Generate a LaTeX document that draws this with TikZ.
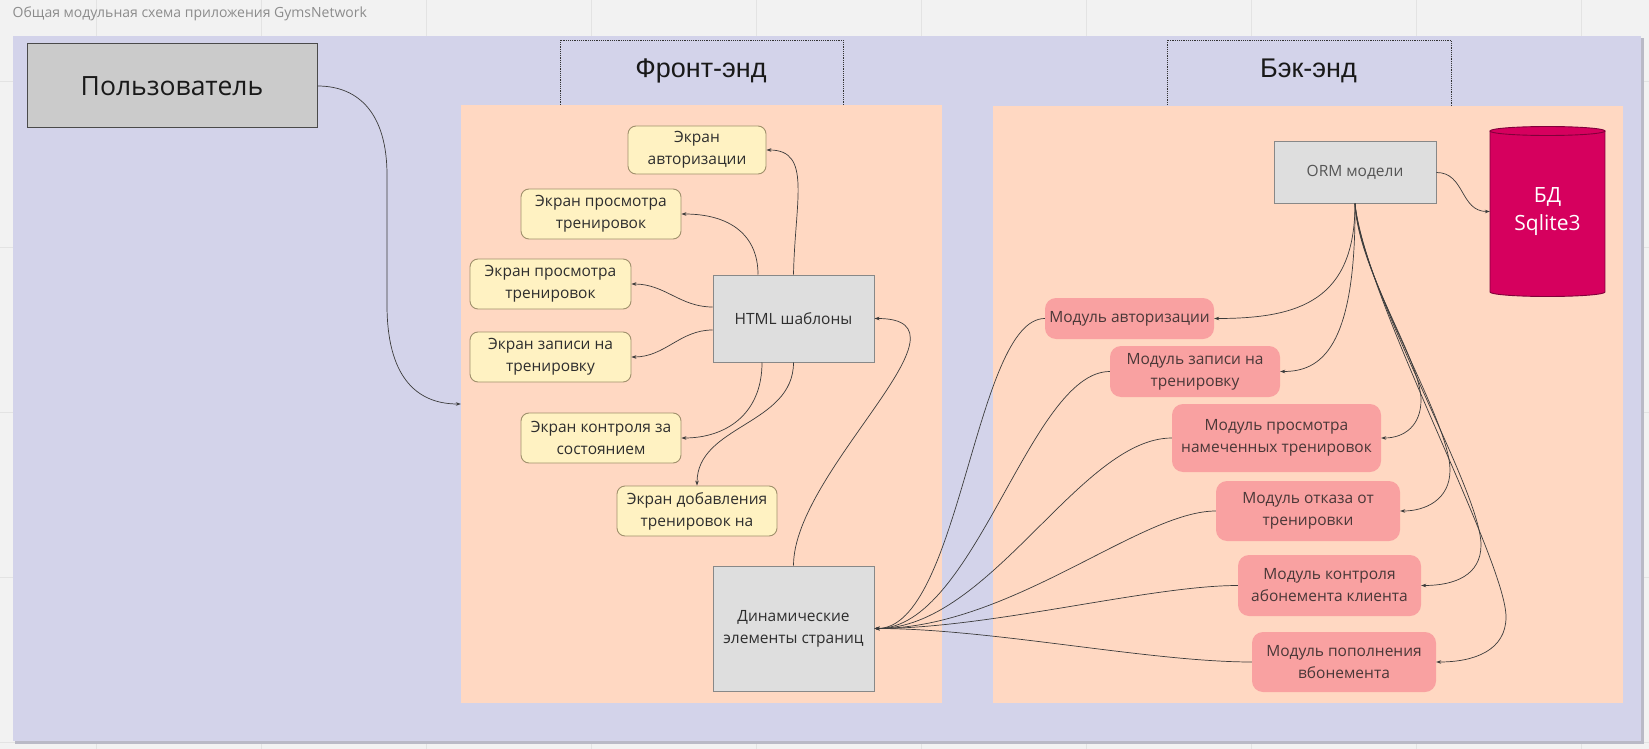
\documentclass[tikz,border=0pt]{standalone}
\usepackage{fontspec}
\setmainfont{Open Sans}
\newfontfamily\labfont{Liberation Sans}
\usetikzlibrary{arrows.meta}
\definecolor{bgc}{HTML}{F2F2F2}
\definecolor{gridc}{HTML}{E3E3E3}
\definecolor{purp}{HTML}{D3D3EA}
\definecolor{purpshadow}{HTML}{B9B9C6}
\definecolor{peach}{HTML}{FFD8C2}
\definecolor{scrfill}{HTML}{FFF2C2}
\definecolor{scrdraw}{HTML}{A0906C}
\definecolor{boxfill}{HTML}{DEDEDE}
\definecolor{boxdraw}{HTML}{888888}
\definecolor{userfill}{HTML}{CBCBCB}
\definecolor{userdraw}{HTML}{4A4A4A}
\definecolor{modfill}{HTML}{F9A1A1}
\definecolor{modtxt}{HTML}{4A3838}
\definecolor{dbfill}{HTML}{D6005E}
\definecolor{dbdraw}{HTML}{80003A}
\definecolor{linec}{HTML}{3C3C3C}
\definecolor{txtc}{HTML}{2E2E2E}
\definecolor{ormtxt}{HTML}{555555}
\definecolor{titlec}{HTML}{8C8C8C}
\begin{document}
\begin{tikzpicture}[x=1pt,y=-1pt,
  scr/.style={rectangle, rounded corners=8pt, draw=scrdraw, line width=0.9pt, fill=scrfill, text=txtc, align=center, inner sep=0pt, font=\fontsize{15.5}{22}\selectfont},
  gbox/.style={rectangle, draw=boxdraw, line width=1pt, fill=boxfill, text=txtc, align=center, inner sep=0pt, font=\fontsize{15.5}{22}\selectfont},
  modbox/.style={rectangle, rounded corners=11pt, fill=modfill, text=modtxt, align=center, inner sep=0pt, font=\fontsize{15.5}{22}\selectfont},
  panel/.style={rectangle, fill=peach, inner sep=0pt},
  labbox/.style={rectangle, draw=black!80, line width=0.8pt, dash pattern=on 1.2pt off 1pt, inner sep=0pt},
  labtext/.style={font=\labfont\fontsize{27}{32}\selectfont, text=black!90, inner sep=0pt, anchor=base},
  conn/.style={draw=linec, line width=0.7pt, -{Stealth[length=5pt,width=3.6pt]}},
]
\useasboundingbox (0,0) rectangle (1649,749);
\fill[bgc] (0,0) rectangle (1649,749);
\foreach \gx in {96,261,...,1600} \draw[gridc, line width=1pt] (\gx,0) -- (\gx,749);
\foreach \gy in {82,247,...,749} \draw[gridc, line width=1pt] (0,\gy) -- (1649,\gy);
\node[anchor=west, text=titlec, font=\fontsize{14}{17}\selectfont, inner sep=0pt] (title) at (12.5,14) {Общая модульная схема приложения GymsNetwork};
% outer container
\fill[purpshadow] (14.5,38.5) rectangle (1643.5,743.5);
\node[rectangle, fill=purp, inner sep=0pt, minimum width=1628.5, minimum height=705] (outer) at (826.75,388.5) {};
% section labels
\node[labbox, minimum width=283, minimum height=70] (feBox) at (701.5,75) {};
\node[labbox, minimum width=284, minimum height=70] (beBox) at (1309,75) {};
\node[labtext] (feText) at (701,77.5) {Фронт-энд};
\node[labtext] (beText) at (1308.5,77.5) {Бэк-энд};
% panels
\node[panel, minimum width=481, minimum height=598] (front) at (701.5,404) {};
\node[panel, minimum width=630, minimum height=597] (back) at (1308,404.5) {};
% user
\node[rectangle, draw=userdraw, line width=1pt, fill=userfill, text=black!90, inner sep=0pt, minimum width=290, minimum height=84, font=\fontsize{26.5}{32}\selectfont] (user) at (172,86) {Пользователь};
% front-end nodes
\node[scr, minimum width=138, minimum height=48] (scrAuth) at (697,150) {Экран\\авторизации};
\node[scr, minimum width=160, minimum height=50] (scrViewA) at (601,214) {Экран просмотра\\тренировок};
\node[scr, minimum width=161, minimum height=50] (scrViewB) at (550.5,284) {Экран просмотра\\тренировок};
\node[scr, minimum width=161, minimum height=50] (scrRec) at (550.5,357) {Экран записи на\\тренировку};
\node[scr, minimum width=160, minimum height=50] (scrCtl) at (601,438) {Экран контроля за\\состоянием};
\node[scr, minimum width=160, minimum height=50] (scrAdd) at (697,511) {Экран добавления\\тренировок на};
\node[gbox, minimum width=161, minimum height=87] (html) at (793.5,318.5) {HTML шаблоны};
\node[gbox, minimum width=161, minimum height=125] (dyn) at (793.5,628.5) {Динамические\\элементы страниц};
% back-end nodes
\node[gbox, text=ormtxt, minimum width=162, minimum height=61] (orm) at (1355,172.5) {ORM модели};
\fill[dbfill] (1490,131) rectangle (1605,292);
\fill[dbfill] (1547.5,292) ellipse [x radius=57.5pt, y radius=4.5pt];
\draw[dbdraw, line width=0.9pt] (1490,131) -- (1490,292) arc[start angle=180, end angle=360, x radius=57.5pt, y radius=4.5pt] -- (1605,131);
\filldraw[fill=dbfill, draw=dbdraw, line width=0.9pt] (1547.5,131) ellipse [x radius=57.5pt, y radius=4.5pt];
\node[rectangle, inner sep=0pt, minimum width=115, minimum height=171, text=white, align=center, font=\fontsize{21}{28}\selectfont] (db) at (1547.5,211.5) {БД\\Sqlite3};
\node[modbox, minimum width=169, minimum height=41] (mAuth) at (1129.5,318.5) {Модуль авторизации};
\node[modbox, minimum width=170, minimum height=51] (mRec) at (1195,371.5) {Модуль записи на\\тренировку};
\node[modbox, minimum width=209, minimum height=68] (mView) at (1276.5,438) {Модуль просмотра\\намеченных тренировок};
\node[modbox, minimum width=184, minimum height=60] (mCancel) at (1308,511) {Модуль отказа от\\тренировки};
\node[modbox, minimum width=183, minimum height=61] (mCtl) at (1329.5,585.5) {Модуль контроля\\абонемента клиента};
\node[modbox, minimum width=184, minimum height=60] (mTop) at (1344,662) {Модуль пополнения\\вбонемента};
% connectors
\draw[conn] (user.east) .. controls (360,86) and (387,115) .. (387,175) -- (387,305) .. controls (387,375) and (415,404) .. (front.west);
\draw[conn] (html.north) .. controls (795,200) and (812,150) .. (scrAuth.east);
\draw[conn] ([xshift=-35.5pt]html.north) .. controls (758,235) and (730,214) .. (scrViewA.east);
\draw[conn] ([yshift=11.5pt]html.west) .. controls (680,307) and (665,284) .. (scrViewB.east);
\draw[conn] ([yshift=-11.5pt]html.west) .. controls (680,330) and (665,357) .. (scrRec.east);
\draw[conn] ([xshift=-31.5pt]html.south) .. controls (762,415) and (725,438) .. (scrCtl.east);
\draw[conn] (html.south) .. controls (793.5,425) and (697,425) .. (scrAdd.north);
\draw[conn] (dyn.north) .. controls (793.5,470) and (985,318.5) .. (html.east);
\draw[conn] (orm.east) .. controls (1465,172.5) and (1460,211.5) .. (db.west);
\draw[conn] (orm.south) .. controls (1355,300) and (1300,318.5) .. (mAuth.east);
\draw[conn] (orm.south) .. controls (1356,350) and (1320,371.5) .. (mRec.east);
\draw[conn] (orm.south) .. controls (1358,270) and (1421,360) .. (1421,400) .. controls (1421,425) and (1405,438) .. (mView.east);
\draw[conn] (orm.south) .. controls (1360,280) and (1450,420) .. (1450,470) .. controls (1450,500) and (1425,511) .. (mCancel.east);
\draw[conn] (orm.south) .. controls (1362,290) and (1481,490) .. (1481,545) .. controls (1481,575) and (1455,585.5) .. (mCtl.east);
\draw[conn] (orm.south) .. controls (1365,300) and (1506,560) .. (1506,617) .. controls (1506,650) and (1475,662) .. (mTop.east);
\draw[conn] (mAuth.west) .. controls (975,318.5) and (960,628.5) .. (dyn.east);
\draw[conn] (mRec.west) .. controls (1030,371.5) and (975,628.5) .. (dyn.east);
\draw[conn] (mView.west) .. controls (1080,438) and (990,628.5) .. (dyn.east);
\draw[conn] (mCancel.west) .. controls (1140,511) and (1010,628.5) .. (dyn.east);
\draw[conn] (mCtl.west) .. controls (1150,585.5) and (990,628.5) .. (dyn.east);
\draw[conn] (mTop.west) .. controls (1150,662) and (990,628.5) .. (dyn.east);
\end{tikzpicture}
\end{document}
